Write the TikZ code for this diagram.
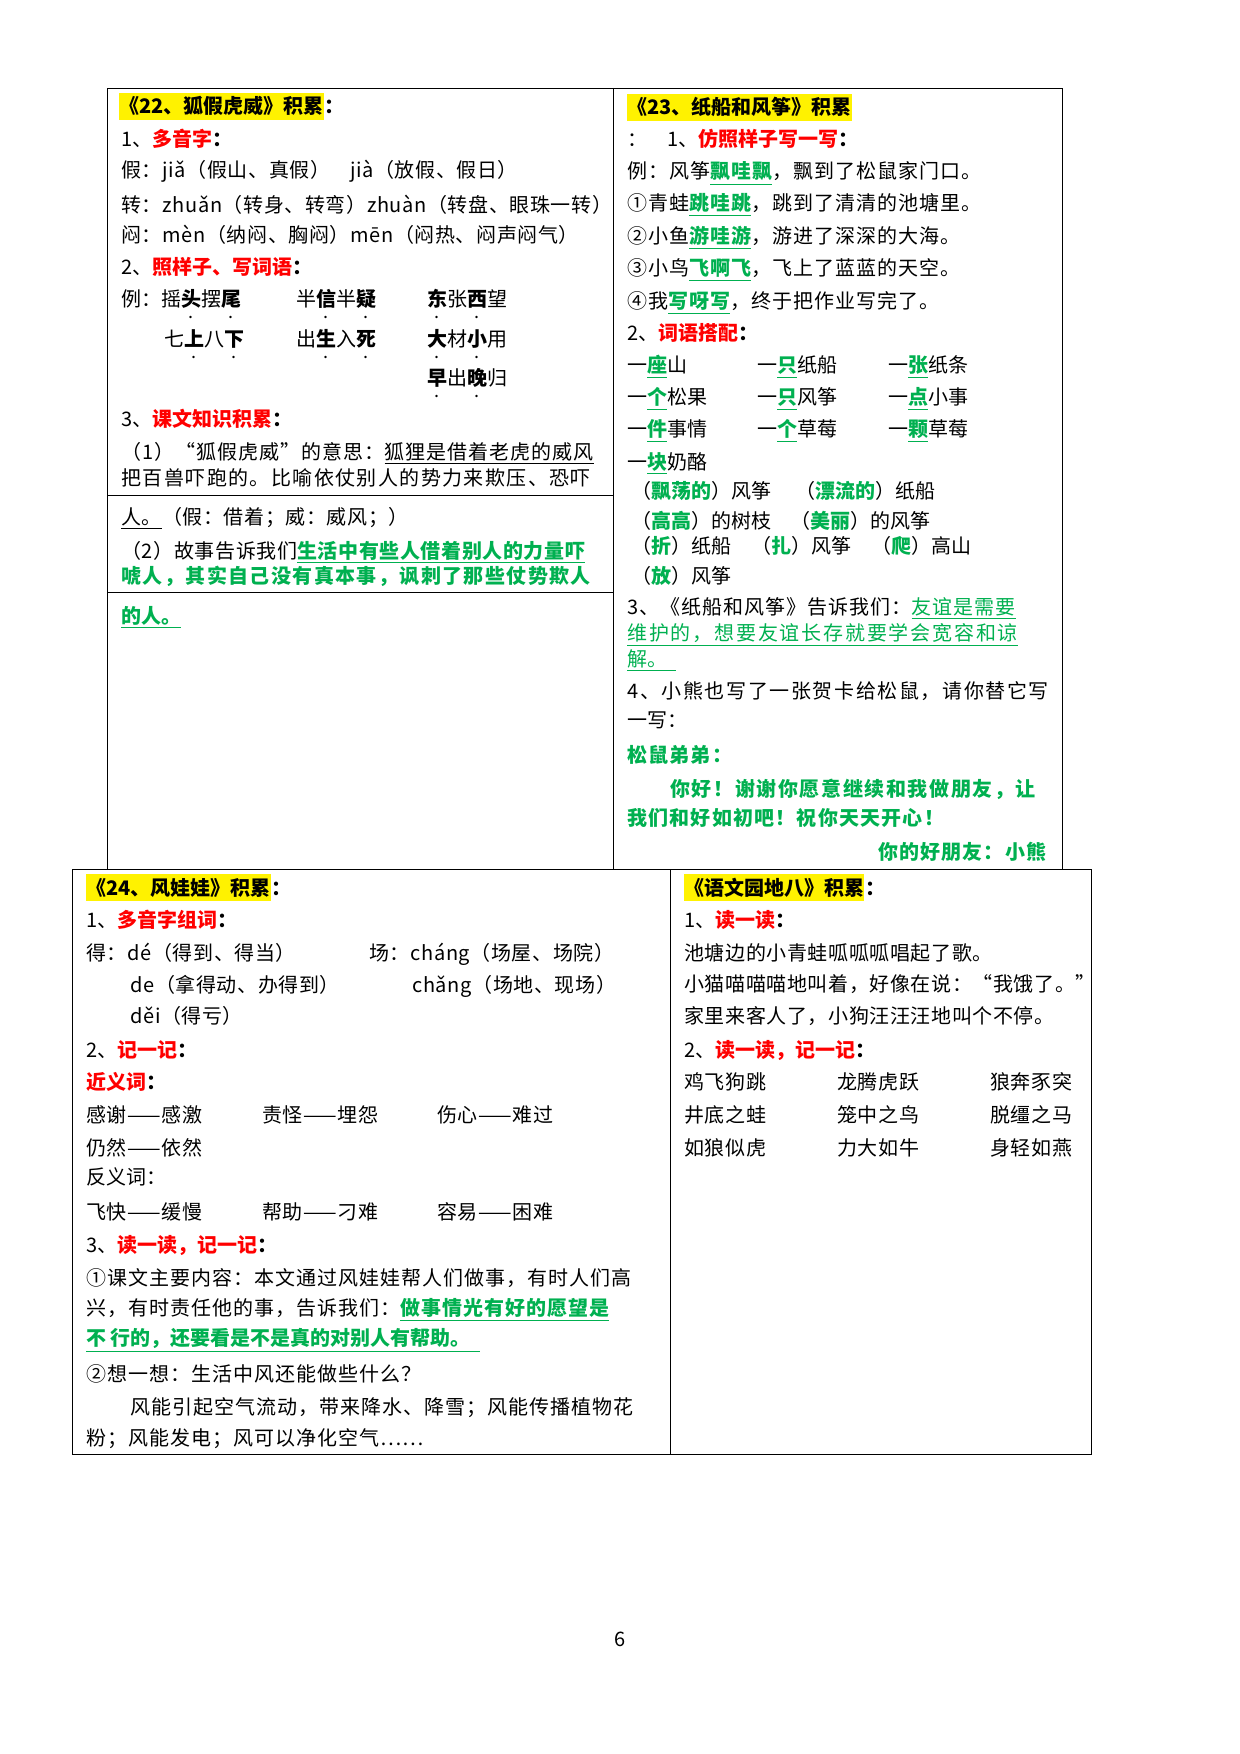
\documentclass[tikz,border=0pt]{standalone}
\usepackage{fontspec}
\setmainfont{Noto Sans CJK SC}
\usetikzlibrary{positioning}
\definecolor{grn}{RGB}{0,176,80}
\newcommand{\dt}[1]{\ooalign{#1\cr\hidewidth\raisebox{-1.1ex}{\small.}\hidewidth}}
\newcommand{\rd}[1]{\textcolor{red}{\textbf{#1}}}
\newcommand{\gn}[1]{\textcolor{grn}{\textbf{#1}}}
\newcommand{\gu}[1]{\textcolor{grn}{\textbf{\underline{#1}}}}
\tikzset{
    txt/.style={anchor=base west, inner sep=0pt, font=\fontsize{10pt}{12pt}\selectfont},
    wide/.style={txt, font=\fontsize{10pt}{12pt}\selectfont\addfontfeature{LetterSpace=#1}},
    wide/.default=6,
    ttl/.style={txt, fill=yellow, inner ysep=2pt, font=\fontsize{10pt}{12pt}\selectfont\bfseries} }

\begin{document}
\begin{tikzpicture}[x=0.5pt,y=-0.5pt]
\useasboundingbox (0,0) rectangle (1240,1754);
% frames
  \draw [thin] (107,88) rectangle (1062,869); \draw (613,88) -- (613,869);
  \draw (107,495) -- (613,495); \draw (107,592) -- (613,592);
  \draw [thin] (72,869) rectangle (1091,1454); \draw (670,869) -- (670,1454);

% 22
  \node [ttl] (t22) at (119,114) {《22、狐假虎威》积累}; \node [txt, anchor=base west] (t22c) at (t22.base east) {\textbf{：}};
  \node [txt] (a1) at (121,147) {1、\rd{多音字}\textbf{：}};
  \node [wide=3] (a2) at (121,178) {假：jiǎ（假山、真假）\quad jià（放假、假日）};
  \node [wide=3] (a3) at (121,213) {转：zhuǎn（转身、转弯）zhuàn（转盘、眼珠一转）};
  \node [wide=3] (a4) at (121,243) {闷：mèn（纳闷、胸闷）mēn（闷热、闷声闷气）};
  \node [txt] (a5) at (121,275) {2、\rd{照样子、写词语}\textbf{：}};
  \node [txt] (a6) at (121,307) {例：摇\dt{\textbf{头}}摆\dt{\textbf{尾}}};
  \node [txt] (a7) at (296,307) {半\dt{\textbf{信}}半\dt{\textbf{疑}}};
  \node [txt] (a8) at (427,307) {\dt{\textbf{东}}张\dt{\textbf{西}}望};
  \node [txt] (a9) at (164,347) {七\dt{\textbf{上}}八\dt{\textbf{下}}};
  \node [txt] (a10) at (296,347) {出\dt{\textbf{生}}入\dt{\textbf{死}}};
  \node [txt] (a11) at (427,347) {\dt{\textbf{大}}材\dt{\textbf{小}}用};
  \node [txt] (a12) at (427,386) {\dt{\textbf{早}}出\dt{\textbf{晚}}归};
  \node [txt] (a13) at (121,427) {3、\rd{课文知识积累}\textbf{：}};
  \node [wide=5] (a14) at (121,459) {（1）“狐假虎威”的意思：\underline{狐狸是借着老虎的威风}};
  \node [wide=7] (a15) at (121,486) {把百兽吓跑的。比喻依仗别人的势力来欺压、恐吓};
  \node [wide=3] (a16) at (121,524) {\underline{人。}（假：借着；威：威风；）};
  \node [wide=3] (a17) at (121,558) {（2）故事告诉我们\gu{生活中有些人借着别人的力量吓}};
  \node [wide=7] (a18) at (121,583) {\gn{唬人，其实自己没有真本事，讽刺了那些仗势欺人}};
  \node [txt] (a19) at (121,623) {\gu{的人。}};

% 23
  \node [ttl] (t23) at (627,115) {《23、纸船和风筝》积累};
  \node [txt] (b1) at (627,147) {：\quad 1、\rd{仿照样子写一写}\textbf{：}};
  \node [wide=5] (b2) at (627,179) {例：风筝\gu{飘哇飘}，飘到了松鼠家门口。};
  \node [wide=5] (b3) at (627,211) {①青蛙\gu{跳哇跳}，跳到了清清的池塘里。};
  \node [wide=5] (b4) at (627,244) {②小鱼\gu{游哇游}，游进了深深的大海。};
  \node [wide=5] (b5) at (627,276) {③小鸟\gu{飞啊飞}，飞上了蓝蓝的天空。};
  \node [wide=5] (b6) at (627,309) {④我\gu{写呀写}，终于把作业写完了。};
  \node [txt] (b7) at (627,341) {2、\rd{词语搭配}\textbf{：}};
  \node [txt] (b8) at (627,373) {一\gu{座}山}; \node [txt] (b9) at (757,373) {一\gu{只}纸船}; \node [txt] (b10) at (888,373) {一\gu{张}纸条};
  \node [txt] (b11) at (627,405) {一\gu{个}松果}; \node [txt] (b12) at (757,405) {一\gu{只}风筝}; \node [txt] (b13) at (888,405) {一\gu{点}小事};
  \node [txt] (b14) at (627,437) {一\gu{件}事情}; \node [txt] (b15) at (757,437) {一\gu{个}草莓}; \node [txt] (b16) at (888,437) {一\gu{颗}草莓};
  \node [txt] (b17) at (627,469) {一\gu{块}奶酪};
  \node [txt] (b18) at (631,498) {（\gn{飘荡的}）风筝}; \node [txt] (b19) at (795,498) {（\gn{漂流的}）纸船};
  \node [txt] (b20) at (631,528) {（\gn{高高}）的树枝}; \node [txt] (b21) at (790,528) {（\gn{美丽}）的风筝};
  \node [txt] (b22) at (631,553) {（\gn{折}）纸船\quad （\gn{扎}）风筝\quad （\gn{爬}）高山};
  \node [txt] (b23) at (631,583) {（\gn{放}）风筝};
  \node [wide=5] (b24) at (627,614) {3、《纸船和风筝》告诉我们：\textcolor{grn}{\underline{友谊是需要}}};
  \node [wide=9] (b25) at (627,640) {\textcolor{grn}{\underline{维护的，想要友谊长存就要学会宽容和谅}}};
  \node [txt] (b26) at (627,666) {\textcolor{grn}{\underline{解。\ \ }}};
  \node [wide=8] (b27) at (627,698) {4、小熊也写了一张贺卡给松鼠，请你替它写};
  \node [txt] (b28) at (627,727) {一写：};
  \node [wide=6] (b29) at (627,762) {\gn{松鼠弟弟：}};
  \node [wide=8] (b30) at (670,796) {\gn{你好！谢谢你愿意继续和我做朋友，让}};
  \node [wide=6] (b31) at (627,825) {\gn{我们和好如初吧！祝你天天开心！}};
  \node [wide=6, anchor=base east] (b32) at (1048,859) {\gn{你的好朋友：小熊}};

% 24
  \node [ttl] (t24) at (86,895) {《24、风娃娃》积累}; \node [txt, anchor=base west] (t24c) at (t24.base east) {\textbf{：}};
  \node [txt] (c1) at (86,927) {1、\rd{多音字组词}\textbf{：}};
  \node [wide=3] (c2) at (86,960) {得：dé（得到、得当）}; \node [wide=3] (c3) at (369,960) {场：cháng（场屋、场院）};
  \node [wide=3] (c4) at (130,992) {de（拿得动、办得到）}; \node [wide=3] (c5) at (412,992) {chǎng（场地、现场）};
  \node [wide=3] (c6) at (130,1023) {děi（得亏）};
  \node [txt] (c7) at (86,1057) {2、\rd{记一记}\textbf{：}};
  \node [txt] (c8) at (86,1089) {\rd{近义词}\textbf{：}};
  \node [wide=3] (c9) at (86,1122) {感谢——感激}; \node [wide=3] (c10) at (262,1122) {责怪——埋怨}; \node [wide=3] (c11) at (437,1122) {伤心——难过};
  \node [wide=3] (c12) at (86,1155) {仍然——依然};
  \node [txt] (c13) at (86,1184) {反义词：};
  \node [wide=3] (c14) at (86,1219) {飞快——缓慢}; \node [wide=3] (c15) at (262,1219) {帮助——刁难}; \node [wide=3] (c16) at (437,1219) {容易——困难};
  \node [txt] (c17) at (86,1252) {3、\rd{读一读，记一记}\textbf{：}};
  \node [wide=5] (c18) at (86,1285) {①课文主要内容：本文通过风娃娃帮人们做事，有时人们高};
  \node [wide=5] (c19) at (86,1315) {兴，有时责任他的事，告诉我们：\gu{做事情光有好的愿望是}};
  \node [txt] (c20) at (86,1345) {\gu{不\ 行的，还要看是不是真的对别人有帮助。\ \ }};
  \node [wide=5] (c21) at (86,1381) {②想一想：生活中风还能做些什么？};
  \node [wide=5] (c22) at (130,1414) {风能引起空气流动，带来降水、降雪；风能传播植物花};
  \node [wide=5] (c23) at (86,1445) {粉；风能发电；风可以净化空气……};

% yuwen yuandi 8
  \node [ttl] (t8) at (684,895) {《语文园地八》积累}; \node [txt, anchor=base west] (t8c) at (t8.base east) {\textbf{：}};
  \node [txt] (d1) at (684,927) {1、\rd{读一读}\textbf{：}};
  \node [wide=3] (d2) at (684,960) {池塘边的小青蛙呱呱呱唱起了歌。};
  \node [wide=3] (d3) at (684,991) {小猫喵喵喵地叫着，好像在说：“我饿了。”};
  \node [wide=3] (d4) at (684,1023) {家里来客人了，小狗汪汪汪地叫个不停。};
  \node [txt] (d5) at (684,1057) {2、\rd{读一读，记一记}\textbf{：}};
  \node [wide=3] (d6) at (684,1089) {鸡飞狗跳}; \node [wide=3] (d7) at (837,1089) {龙腾虎跃}; \node [wide=3] (d8) at (990,1089) {狼奔豕突};
  \node [wide=3] (d9) at (684,1122) {井底之蛙}; \node [wide=3] (d10) at (837,1122) {笼中之鸟}; \node [wide=3] (d11) at (990,1122) {脱缰之马};
  \node [wide=3] (d12) at (684,1155) {如狼似虎}; \node [wide=3] (d13) at (837,1155) {力大如牛}; \node [wide=3] (d14) at (990,1155) {身轻如燕};

  \node [txt, anchor=base] (pg) at (620,1646) {6};
\end{tikzpicture}
\end{document}
